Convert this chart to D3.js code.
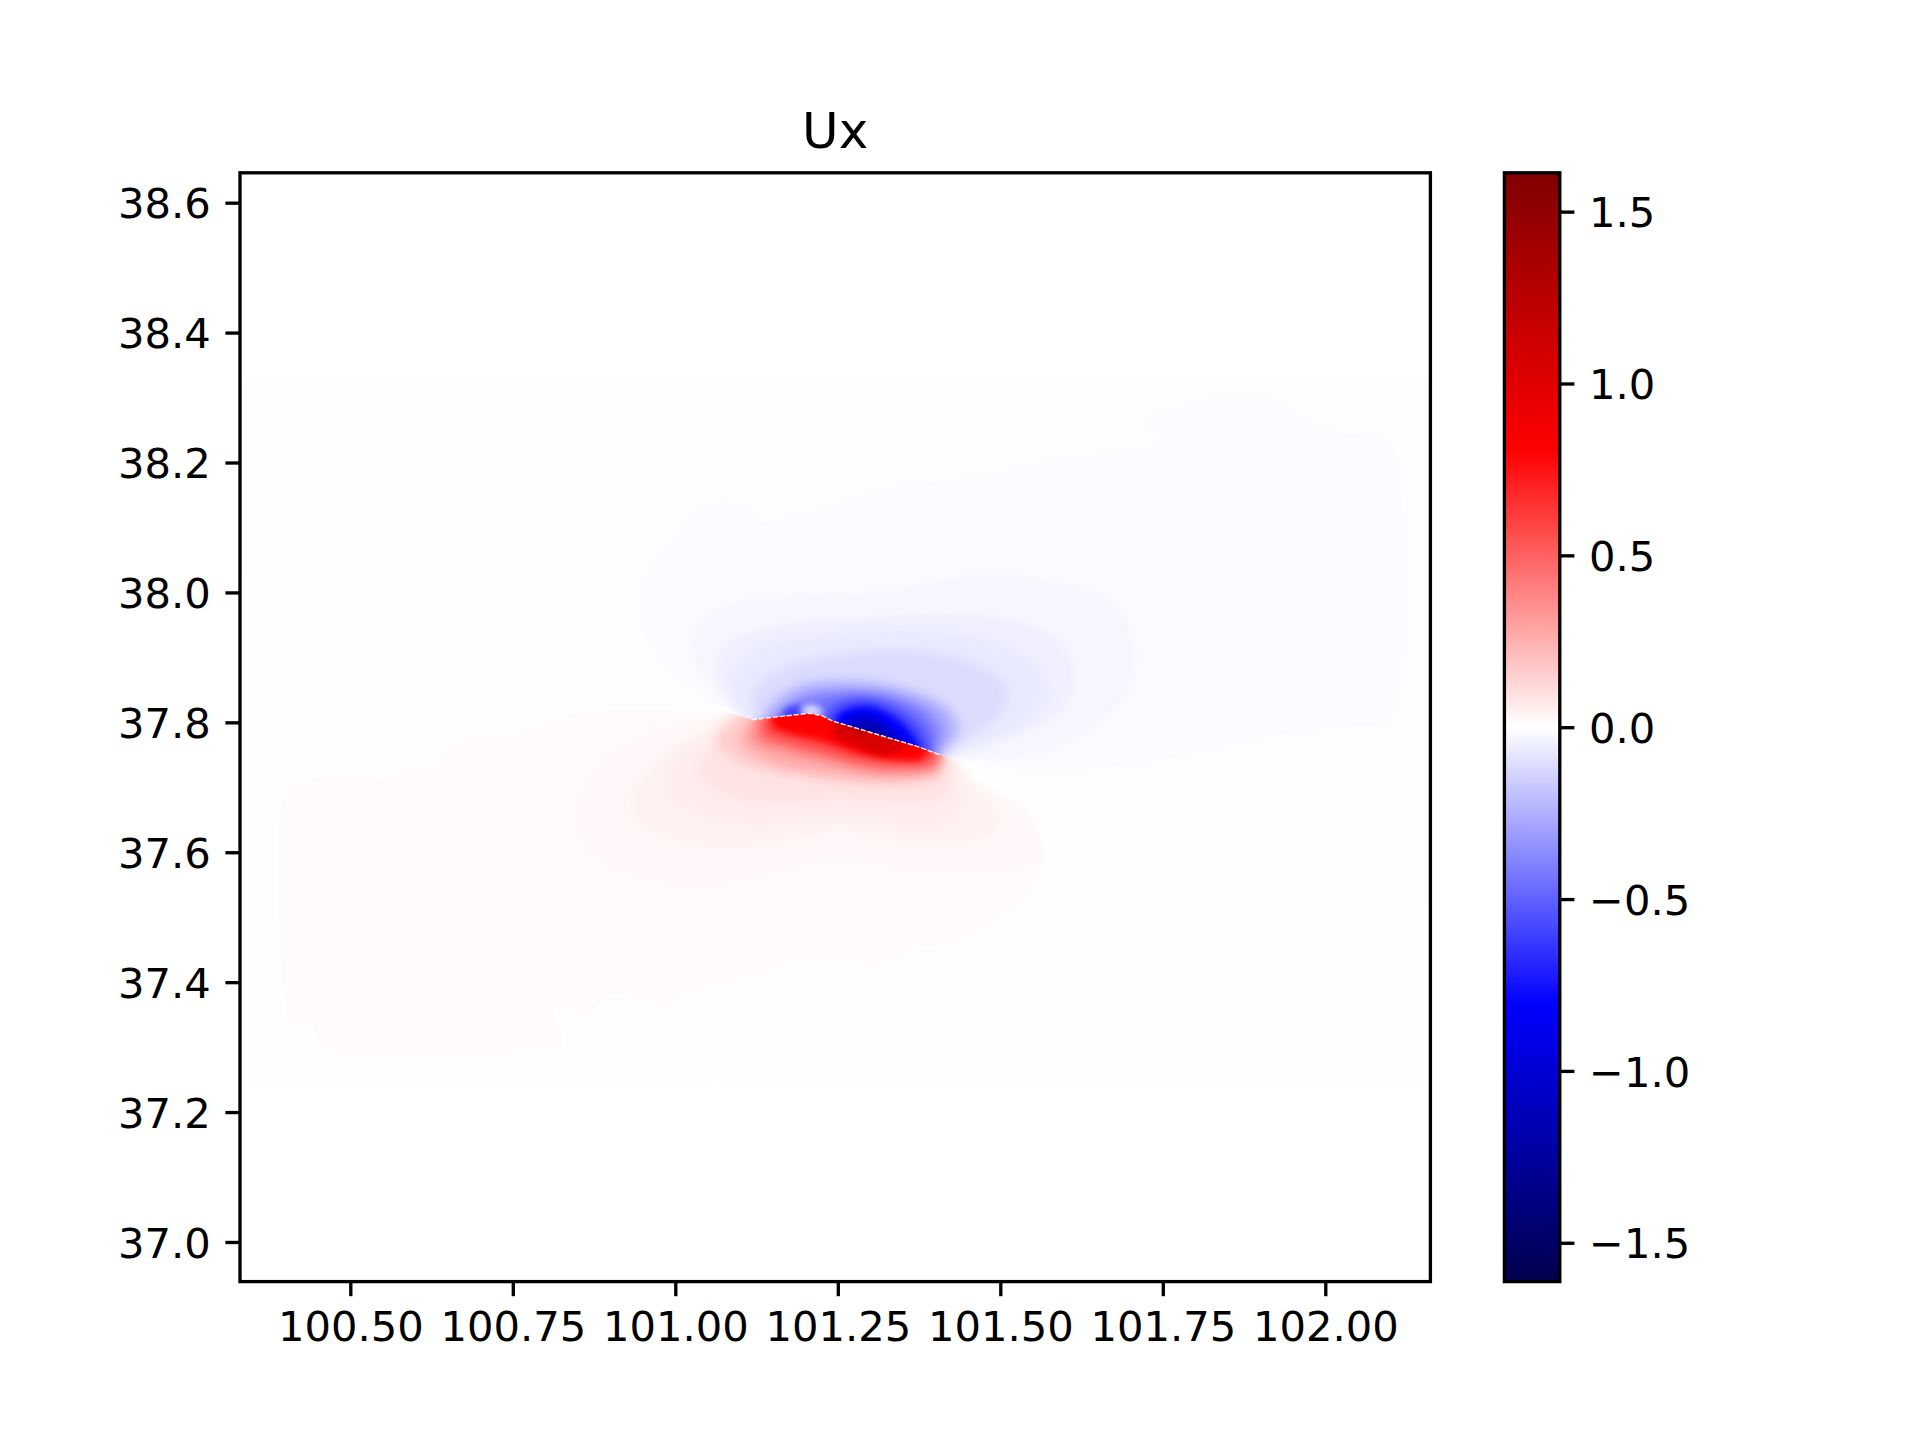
<!DOCTYPE html>
<html><head><meta charset="utf-8">
<script src="https://cdn.jsdelivr.net/npm/d3@7"></script>
<style>html,body{margin:0;padding:0;background:#fff}svg{display:block}text{font-family:"DejaVu Sans";fill:#000}</style>
</head><body><svg id="c" width="1920" height="1440"></svg>
<script>
const titleText = "Ux";
const lonTicks = [100.5,100.75,101,101.25,101.5,101.75,102];
const latTicks = [37,37.2,37.4,37.6,37.8,38,38.2,38.4,38.6];
const cbTicks = [-1.5,-1,-0.5,0,0.5,1,1.5];
const lonDomain = [100.3303,102.1617];
const latDomain = [36.939,38.646];
const valueDomain = [-1.613,-0.8065,0,0.8065,1.613];
const seismic = ["#00004d","#0000ff","#ffffff","#ff0000","#800000"];

// rupture trace, lon/lat
const fault = [[101.118,37.804],[101.207,37.814],[101.226,37.810],[101.242,37.802],[101.372,37.763],[101.407,37.750]];
// zero line either side of the trace
const zeroWest = [[100.3303,38.029],[100.729,37.929]];
const zeroEast = [[101.783,37.636],[102.1617,37.520]];
const northCorners = [[102.1617,38.646],[100.3303,38.646]];
const southCorners = [[102.1617,36.939],[100.3303,36.939]];

// faint background areas
const faintNorth = [[100.3303,38.327],[102.1617,38.327],[102.1617,37.520],[101.783,37.636],[101.407,37.750],[101.118,37.804],[100.729,37.929],[100.3303,38.029]];
const faintSouth = [[100.3303,38.029],[100.729,37.929],[101.118,37.804],[101.407,37.750],[101.783,37.636],[102.1617,37.520],[102.1617,37.245],[100.3303,37.245]];
const faintPatch = [[101.065,37.245],[101.188,37.273],[101.494,37.268],[102.1617,37.257],[102.1617,37.245]];
const faintValues = [-0.005,0.003,-0.004];

// common closing points below / above the trace
const P1=[101.395,37.728],P2=[101.234,37.767],P3=[101.134,37.782];
const Q1=[101.395,37.782],Q2=[101.211,37.844],Q3=[101.127,37.828];

const blueValues = [-0.015,-0.03,-0.05,-0.07,-0.11,-0.22,-0.32,-0.45,-0.62,-0.8,-1.0,-1.15];
const blueRings = [
 [[100.951,38.011],[100.975,38.053],[101.014,38.099],[101.046,38.133],[101.113,38.131],[101.128,38.110],[101.203,38.122],[101.321,38.157],[101.480,38.180],[101.598,38.207],[101.739,38.222],[101.747,38.241],[101.719,38.264],[101.778,38.283],[101.810,38.296],[101.928,38.294],[101.960,38.268],[102.022,38.245],[102.077,38.241],[102.105,38.212],[102.117,38.104],[102.113,37.872],[102.097,37.802],[102.030,37.794],[101.897,37.777],[101.770,37.747],[101.652,37.731],[101.558,37.725],[101.456,37.744],[101.408,37.745],P1,P2,P3,[101.116,37.805],[101.061,37.831],[100.994,37.882],[100.955,37.940]],
 [[101.026,37.909],[101.033,37.949],[101.093,37.983],[101.180,37.994],[101.313,37.999],[101.416,38.019],[101.495,38.027],[101.598,38.010],[101.660,37.994],[101.692,37.960],[101.707,37.888],[101.692,37.841],[101.637,37.790],[101.558,37.754],[101.456,37.744],[101.408,37.745],P1,P2,P3,[101.104,37.813],[101.061,37.847]],
 [[101.061,37.882],[101.078,37.918],[101.164,37.949],[101.258,37.957],[101.416,37.965],[101.526,37.955],[101.598,37.918],[101.613,37.867],[101.590,37.816],[101.518,37.779],[101.432,37.750],P1,P2,P3,[101.078,37.841]],
 [[101.086,37.867],[101.125,37.909],[101.203,37.929],[101.385,37.937],[101.479,37.925],[101.550,37.888],[101.570,37.851],[101.550,37.810],[101.488,37.774],[101.424,37.752],P1,P2,P3,[101.104,37.818]],
 [[101.120,37.847],[101.164,37.882],[101.258,37.905],[101.385,37.908],[101.463,37.888],[101.511,37.851],[101.496,37.810],[101.449,37.774],[101.416,37.752],P1,P2,P3,[101.122,37.810]],
 [[101.141,37.821],[101.187,37.856],[101.264,37.865],[101.356,37.851],[101.422,37.821],[101.437,37.785],[101.406,37.750],P1,P2,P3],
 [[101.155,37.815],[101.195,37.845],[101.265,37.853],[101.345,37.843],[101.405,37.815],[101.420,37.785],[101.400,37.750],P1,P2,P3],
 [[101.170,37.815],[101.205,37.835],[101.265,37.842],[101.335,37.835],[101.385,37.812],[101.402,37.780],[101.395,37.750],P1,P2,P3],
 [[101.235,37.812],[101.262,37.832],[101.304,37.834],[101.350,37.815],[101.382,37.782],[101.390,37.755],[101.383,37.736],P2],
 [[101.249,37.808],[101.272,37.822],[101.304,37.823],[101.343,37.803],[101.368,37.775],[101.375,37.751],[101.253,37.767]],
 [[101.265,37.806],[101.295,37.811],[101.325,37.798],[101.352,37.770],[101.345,37.755],[101.262,37.775]],
 [[101.280,37.800],[101.305,37.800],[101.325,37.785],[101.330,37.768],[101.278,37.782]]
];
const blueBlobValue = -0.6;
const blueBlob = [[101.165,37.813],[101.176,37.824],[101.192,37.825],[101.201,37.819],[101.192,37.802],[101.169,37.802]];
const apexValue = -0.12;
const apexSpot = [[101.192,37.819],[101.207,37.827],[101.223,37.822],[101.226,37.813],[101.200,37.811]];

const redValues = [0.012,0.025,0.04,0.06,0.09,0.16,0.27,0.4,0.6,0.8,1.05,1.25];
const redRings = [
 [[100.394,37.682],[100.406,37.705],[100.466,37.717],[100.529,37.720],[100.550,37.713],[100.584,37.733],[100.625,37.731],[100.663,37.770],[100.750,37.786],[100.834,37.813],[100.960,37.821],[101.070,37.816],Q3,Q2,Q1,[101.422,37.744],[101.497,37.687],[101.561,37.620],[101.564,37.589],[101.540,37.532],[101.482,37.486],[101.422,37.453],[101.381,37.455],[101.314,37.424],[101.203,37.438],[101.128,37.408],[101.020,37.384],[100.986,37.361],[100.902,37.381],[100.860,37.347],[100.827,37.365],[100.813,37.358],[100.827,37.300],[100.750,37.291],[100.583,37.288],[100.461,37.296],[100.437,37.338],[100.406,37.335],[100.398,37.373],[100.389,37.527]],
 [[100.843,37.655],[100.855,37.693],[100.885,37.733],[100.960,37.786],[101.044,37.806],Q3,Q2,Q1,[101.465,37.708],[101.540,37.662],[101.564,37.609],[101.564,37.589],[101.381,37.571],[101.254,37.589],[101.128,37.563],[101.028,37.548],[100.919,37.569],[100.868,37.600]],
 [[100.931,37.671],[100.943,37.708],[100.994,37.759],[101.061,37.795],Q3,Q2,Q1,[101.456,37.702],[101.497,37.656],[101.489,37.631],[101.422,37.616],[101.364,37.616],[101.254,37.633],[101.171,37.620],[101.087,37.609],[101.003,37.620],[100.943,37.646]],
 [[100.986,37.693],[100.994,37.733],[101.044,37.775],Q3,Q2,Q1,[101.439,37.697],[101.431,37.656],[101.381,37.643],[101.254,37.656],[101.171,37.648],[101.087,37.648],[101.020,37.667]],
 [[101.036,37.724],[101.053,37.759],Q3,Q2,Q1,[101.422,37.697],[101.381,37.677],[101.254,37.682],[101.171,37.677],[101.087,37.686]],
 [[101.064,37.773],[101.092,37.806],Q3,Q2,Q1,[101.407,37.719],[101.356,37.707],[101.279,37.707],[101.203,37.716],[101.150,37.724],[101.092,37.742]],
 [[101.100,37.770],[101.118,37.806],[101.146,37.827],Q2,Q1,[101.407,37.728],[101.356,37.714],[101.279,37.716],[101.203,37.725],[101.150,37.737]],
 [[101.120,37.775],[101.145,37.827],Q2,Q1,[101.405,37.738],[101.361,37.725],[101.304,37.726],[101.227,37.742],[101.170,37.755]],
 [[101.135,37.785],[101.150,37.827],Q2,Q1,[101.395,37.738],[101.350,37.733],[101.290,37.738],[101.225,37.755],[101.175,37.768]],
 [[101.150,37.796],[101.155,37.824],Q2,Q1,[101.380,37.745],[101.340,37.742],[101.285,37.752],[101.225,37.772],[101.180,37.782]],
 [[101.249,37.821],[101.361,37.790],[101.352,37.760],[101.325,37.750],[101.279,37.762],[101.245,37.780]],
 [[101.260,37.808],[101.299,37.802],[101.293,37.785],[101.263,37.793]]
];

const svg = d3.select("#c");
const L=240,R=1430.4,T=172.8,B=1281.6;
const x = d3.scaleLinear().domain(lonDomain).range([L,R]);
const y = d3.scaleLinear().domain(latDomain).range([B,T]);
const color = d3.scaleLinear().domain(valueDomain).range(seismic).clamp(true);
const smooth = d3.line().x(d=>x(d[0])).y(d=>y(d[1])).curve(d3.curveCatmullRomClosed.alpha(0.5));
const straight = d3.line().x(d=>x(d[0])).y(d=>y(d[1]));

const defs = svg.append("defs");
[1.2,3,5.5,3].forEach((s,i)=>{
  defs.append("filter").attr("id","b"+i).attr("filterUnits","userSpaceOnUse")
    .attr("x",0).attr("y",0).attr("width",1920).attr("height",1440)
    .append("feGaussianBlur").attr("stdDeviation",s);
});
defs.append("clipPath").attr("id","plot").append("rect").attr("x",L).attr("y",T).attr("width",R-L).attr("height",B-T);
const north = [...zeroWest,...fault,...zeroEast,...northCorners];
const south = [...zeroWest,...fault,...zeroEast,...southCorners];
defs.append("clipPath").attr("id","northClip").append("path").attr("d",straight(north)+"Z");
defs.append("clipPath").attr("id","southClip").append("path").attr("d",straight(south)+"Z");
const grad = defs.append("linearGradient").attr("id","cb").attr("x1",0).attr("y1",1).attr("x2",0).attr("y2",0);
valueDomain.forEach((v,i)=>grad.append("stop").attr("offset",i/4).attr("stop-color",seismic[i]));

const plot = svg.append("g").attr("clip-path","url(#plot)");
const base = plot.append("g").attr("filter","url(#b0)");
[faintNorth,faintSouth,faintPatch].forEach((r,i)=>base.append("path").attr("d",straight(r)+"Z").attr("fill",color(faintValues[i])));

function blurFor(v){ const a=Math.abs(v); return a<0.02?"url(#b0)":a<0.06?"url(#b1)":a<0.7?"url(#b2)":"url(#b3)"; }
const gN = plot.append("g").attr("clip-path","url(#northClip)");
gN.selectAll("path").data(blueRings).join("path")
  .attr("d",d=>smooth(d)).attr("fill",(d,i)=>color(blueValues[i])).attr("filter",(d,i)=>blurFor(blueValues[i]));
gN.append("path").attr("d",smooth(blueBlob)).attr("fill",color(blueBlobValue)).attr("filter","url(#b3)");
gN.append("path").attr("d",smooth(apexSpot)).attr("fill",color(apexValue)).attr("filter","url(#b3)");
const gS = plot.append("g").attr("clip-path","url(#southClip)");
gS.selectAll("path").data(redRings).join("path")
  .attr("d",d=>smooth(d)).attr("fill",(d,i)=>color(redValues[i])).attr("filter",(d,i)=>blurFor(redValues[i]));
plot.append("path").attr("d",straight(fault)).attr("fill","none").attr("stroke","#fff").attr("stroke-width",1.4).attr("stroke-dasharray","5 2").attr("stroke-opacity",0.9);

const TL=14.6, SW=3.33, FS=41.67, minus=s=>s.replace("-","\u2212");
const ax = svg.append("g").attr("transform",`translate(0,${B})`)
  .call(d3.axisBottom(x).tickValues(lonTicks).tickFormat(d3.format(".2f")).tickSize(TL));
ax.select(".domain").remove();
ax.selectAll("line").attr("stroke","#000").attr("stroke-width",SW);
ax.selectAll("text").attr("y",59.5).attr("dy",null).attr("font-size",FS).attr("font-family","DejaVu Sans").attr("fill","#000");
const ay = svg.append("g").attr("transform",`translate(${L},0)`)
  .call(d3.axisLeft(y).tickValues(latTicks).tickFormat(d3.format(".1f")).tickSize(TL));
ay.select(".domain").remove();
ay.selectAll("line").attr("stroke","#000").attr("stroke-width",SW);
ay.selectAll("text").attr("x",-29.2).attr("dy",null).attr("y",15.2).attr("font-size",FS).attr("font-family","DejaVu Sans").attr("fill","#000");
svg.append("rect").attr("x",L).attr("y",T).attr("width",R-L).attr("height",B-T).attr("fill","none").attr("stroke","#000").attr("stroke-width",SW);
svg.append("text").attr("x",(L+R)/2).attr("y",148).attr("text-anchor","middle").attr("font-size",50).text(titleText);

const cL=1504.4,cR=1559.8;
const c = d3.scaleLinear().domain([valueDomain[0],valueDomain[4]]).range([B,T]);
svg.append("rect").attr("x",cL).attr("y",T).attr("width",cR-cL).attr("height",B-T).attr("fill","url(#cb)").attr("stroke","#000").attr("stroke-width",SW);
const ac = svg.append("g").attr("transform",`translate(${cR},0)`)
  .call(d3.axisRight(c).tickValues(cbTicks).tickFormat(d=>minus(d3.format(".1f")(d))).tickSize(TL));
ac.select(".domain").remove();
ac.selectAll("line").attr("stroke","#000").attr("stroke-width",SW);
ac.selectAll("text").attr("x",29.2).attr("dy",null).attr("y",15.2).attr("font-size",FS).attr("font-family","DejaVu Sans").attr("fill","#000");
</script></body></html>
